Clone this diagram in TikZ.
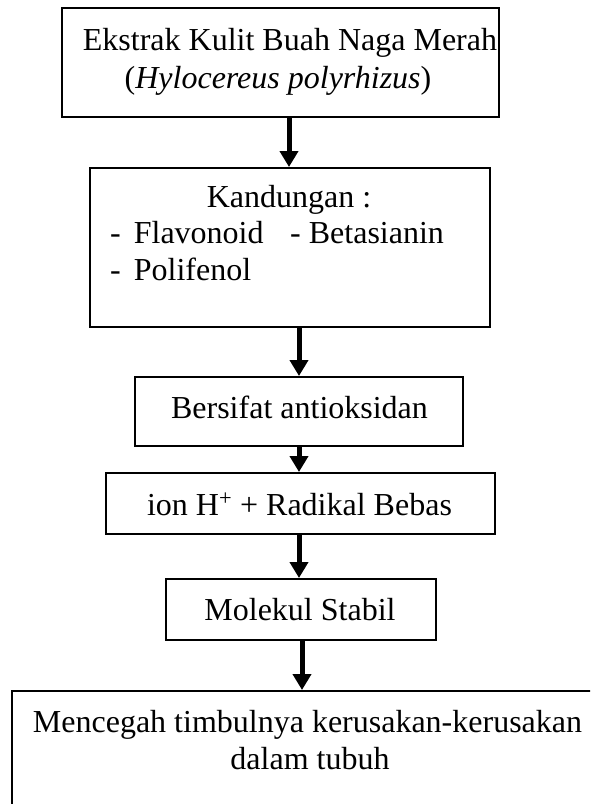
\documentclass[tikz,border=0pt]{standalone}
\usepackage{fontspec}
\setmainfont{Liberation Serif}
\usetikzlibrary{arrows.meta}
\begin{document}
\begin{tikzpicture}[x=1pt,y=-1pt,
  box/.style={draw=black, line width=2pt, rectangle, inner sep=0pt},
  txt/.style={inner sep=0pt, anchor=base, font=\fontsize{32}{37}\selectfont},
  txtl/.style={inner sep=0pt, anchor=base west, font=\fontsize{32}{37}\selectfont},
  arr/.style={line width=5pt, -{Triangle[length=16pt,width=18pt]}}
]
\useasboundingbox (0,0) rectangle (590,804);
\fill[white] (0,0) rectangle (590,804);
\clip (0,0) rectangle (590,804);

% boxes
\node[box, minimum width=437pt, minimum height=109pt] (b1) at (280.5,62.5) {};
\node[box, minimum width=400pt, minimum height=159pt] (b2) at (290,247.5) {};
\node[box, minimum width=328pt, minimum height=69pt] (b3) at (299,411.5) {};
\node[box, minimum width=389pt, minimum height=61pt] (b4) at (300.5,503.5) {};
\node[box, minimum width=270pt, minimum height=61pt] (b5) at (301,609.5) {};
\node[box, minimum width=585pt, minimum height=160pt] (b6) at (304,771) {};

% texts
\node[txt] (t1a) at (290,50) {Ekstrak Kulit Buah Naga Merah};
\node[txt] (t1b) at (278,88) {(\textit{Hylocereus polyrhizus})};
\node[txt] (t2a) at (289,207) {Kandungan :};
\node[txtl] (t2b) at (110,243) {-\hspace{13pt}Flavonoid};
\node[txtl] (t2c) at (290,243) {- Betasianin};
\node[txtl] (t2d) at (110,280) {-\hspace{13pt}Polifenol};
\node[txt] (t3) at (299.5,418) {Bersifat antioksidan};
\node[txt] (t4) at (299.5,515) {ion H\textsuperscript{+} + Radikal Bebas};
\node[txt] (t5) at (300,620) {Molekul Stabil};
\node[txt] (t6a) at (307.5,732) {Mencegah timbulnya kerusakan-kerusakan};
\node[txt] (t6b) at (310,769) {dalam tubuh};

% arrow x positions
\coordinate (x1) at (289,0);
\coordinate (x2) at (299,0);
\coordinate (x5) at (302,0);

\draw[arr] (b1.south -| x1) -- (b2.north -| x1);
\draw[arr] (b2.south -| x2) -- (b3.north -| x2);
\draw[arr] (b3.south -| x2) -- (b4.north -| x2);
\draw[arr] (b4.south -| x2) -- (b5.north -| x2);
\draw[arr] (b5.south -| x5) -- (b6.north -| x5);
\end{tikzpicture}
\end{document}
